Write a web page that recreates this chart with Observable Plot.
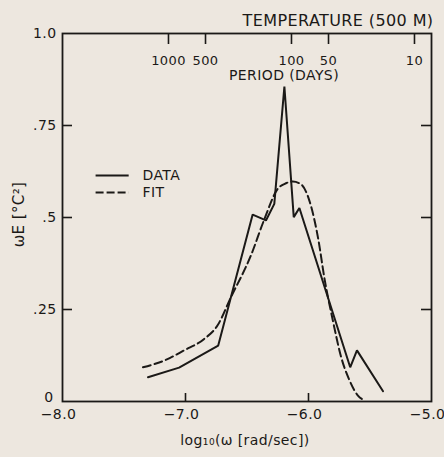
<!DOCTYPE html>
<html>
<head>
<meta charset="utf-8">
<script src="https://cdn.jsdelivr.net/npm/d3@7"></script>
<script src="https://cdn.jsdelivr.net/npm/@observablehq/plot@0.6"></script>
<style>
  html, body { margin: 0; padding: 0; background: #ede7df; }
  #chart svg text { letter-spacing: 0.4px; }
</style>
</head>
<body>
<div id="chart"></div>
<script>
// ---- data ----
const xTicks = [-8, -7, -6, -5];
const xTickLabels = ["−8.0", "−7.0", "−6.0", "−5.0"];
const yTicks = [0, 0.25, 0.5, 0.75, 1.0];
const yTickLabels = ["0", ".25", ".5", ".75", "1.0"];
const periodTicks = [1000, 500, 100, 50, 10]; // days

// measured spectrum (solid)
const dataX = [-7.305, -7.052, -6.734, -6.454, -6.346, -6.278, -6.196, -6.120, -6.074, -5.661, -5.606, -5.394];
const dataY = [0.066, 0.092, 0.152, 0.508, 0.492, 0.537, 0.856, 0.501, 0.526, 0.093, 0.139, 0.028];

// fitted spectrum (dashed)
const fitX = [-7.346, -7.174, -7.011, -6.848, -6.739, -6.631, -6.468, -6.359, -6.250, -6.183, -6.128, -6.060, -5.993, -5.920, -5.870, -5.802, -5.734, -5.666, -5.598, -5.544];
const fitY = [0.093, 0.111, 0.139, 0.170, 0.207, 0.283, 0.397, 0.495, 0.578, 0.593, 0.598, 0.590, 0.546, 0.440, 0.334, 0.220, 0.120, 0.057, 0.016, 0.003];

// legend
const legendLabels = ["DATA", "FIT"];
const legendY = [0.614, 0.568];
const legendX = [-7.731, -7.462, -7.35];

const ink = "#1b1917";
const periodToX = p => Math.log10(2 * Math.PI / (p * 86400));

const dataPts = dataX.map((x, i) => ({x, y: dataY[i]}));
const fitPts = fitX.map((x, i) => ({x, y: fitY[i]}));
const legend = legendLabels.map((label, i) => ({label, y: legendY[i]}));
const innerY = yTicks.slice(1, -1);
const innerX = xTicks.slice(1, -1);

const chart = Plot.plot({
  width: 444,
  height: 457,
  marginLeft: 62,
  marginRight: 13,
  marginTop: 33,
  marginBottom: 56,
  x: {domain: [-8, -5]},
  y: {domain: [0, 1]},
  style: {background: "#ede7df", color: ink, fontFamily: "'DejaVu Sans', sans-serif", fontSize: "14px"},
  marks: [
    Plot.frame({stroke: ink, strokeWidth: 1.8}),
    // inward ticks
    Plot.tickX(innerX, {x: d => d, insetTop: 360, stroke: ink, strokeWidth: 1.6}),
    Plot.tickX(periodTicks, {x: periodToX, insetBottom: 357, stroke: ink, strokeWidth: 1.6}),
    Plot.tickY(innerY, {y: d => d, insetRight: 359, stroke: ink, strokeWidth: 1.6}),
    Plot.tickY(innerY, {y: d => d, insetLeft: 359, stroke: ink, strokeWidth: 1.6}),
    // axes labels
    Plot.axisX(xTicks, {tickSize: 0, tickPadding: 8, fontSize: 14, dx: -4, label: null,
      tickFormat: d => xTickLabels[xTicks.indexOf(d)]}),
    Plot.axisY(yTicks.slice(1), {tickSize: 0, tickPadding: 6, fontSize: 14, label: null,
      tickFormat: d => yTickLabels[yTicks.indexOf(d)]}),
    Plot.axisY(yTicks.slice(0, 1), {tickSize: 0, tickPadding: 9, fontSize: 14, dy: -4, label: null,
      tickFormat: d => yTickLabels[yTicks.indexOf(d)]}),
    Plot.text(periodTicks, {x: periodToX, frameAnchor: "top", dy: 22, text: d => String(d), fontSize: 13, fill: ink}),
    Plot.text(["PERIOD (DAYS)"], {frameAnchor: "top", textAnchor: "middle", dx: 37, dy: 37, text: d => d, fontSize: 14, fill: ink}),
    Plot.text(["TEMPERATURE (500 M)"], {frameAnchor: "top-right", textAnchor: "end", dx: 2, dy: -19, text: d => d, fontSize: 16, fill: ink}),
    Plot.text(["log₁₀(ω [rad/sec])"], {frameAnchor: "bottom", textAnchor: "middle", dx: -2, dy: 43, text: d => d, fontSize: 14, fill: ink}),
    Plot.text(["ωE [°C²]"], {frameAnchor: "left", textAnchor: "middle", dx: -43, dy: -3, rotate: -90, text: d => d, fontSize: 15, fill: ink}),
    // series
    Plot.line(fitPts, {x: "x", y: "y", stroke: ink, strokeWidth: 2, strokeDasharray: "8,4", curve: "monotone-x"}),
    Plot.line(dataPts, {x: "x", y: "y", stroke: ink, strokeWidth: 2, strokeLinejoin: "miter"}),
    // legend
    Plot.link(legend.slice(0, 1), {x1: () => legendX[0], x2: () => legendX[1], y1: "y", y2: "y", stroke: ink, strokeWidth: 2}),
    Plot.link(legend.slice(1), {x1: () => legendX[0], x2: () => legendX[1], y1: "y", y2: "y", stroke: ink, strokeWidth: 2, strokeDasharray: "8,3"}),
    Plot.text(legend, {x: () => legendX[2], y: "y", text: "label", textAnchor: "start", fontSize: 14, fill: ink})
  ]
});
document.getElementById("chart").appendChild(chart);
</script>
</body>
</html>
